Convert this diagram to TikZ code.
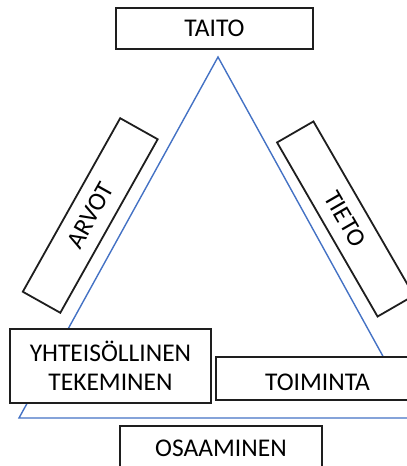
\documentclass[tikz,border=0pt]{standalone}
\usepackage{fontspec}
\setmainfont{Carlito}
\definecolor{triblue}{RGB}{68,114,196}
\definecolor{boxline}{RGB}{30,30,30}
\begin{document}
\begin{tikzpicture}[x=1pt,y=1pt,
  every node/.style={font=\fontsize{25.5}{31}\selectfont},
  labelbox/.style={draw=boxline, line width=1.8pt, fill=white, inner sep=0pt,
    text height=16.4pt, text depth=0pt, align=center}]
  \useasboundingbox (0,0) rectangle (407,466);
  \clip (0,0) rectangle (407,466);

  % triangle
  \coordinate (apex) at (218,409);
  \coordinate (bl) at (19,48);
  \coordinate (br) at (417,48);
  \draw[triblue, line width=1.4pt, line join=miter] (apex) -- (br) -- (bl) -- cycle;

  % labels around the triangle
  \node[labelbox, minimum width=197pt, minimum height=41pt] (taito) at (214.5,437.5) {TAITO};
  \node[labelbox, minimum width=199pt, minimum height=43pt, rotate=60.7] (arvot) at (90.25,250.5) {ARVOT};
  \node[labelbox, minimum width=201pt, minimum height=42pt, rotate=-60] (tieto) at (345.5,247) {TIETO};
  \node[draw=boxline, line width=1.8pt, fill=white, inner sep=0pt, align=center,
        minimum width=201pt, minimum height=74pt] (yht) at (110.5,100) {YHTEISÖLLINEN\\[-2pt]TEKEMINEN};
  \node[labelbox, minimum width=203pt, minimum height=43pt, text height=24.4pt] (toiminta) at (317.5,87.5) {TOIMINTA};
  \node[labelbox, minimum width=202pt, minimum height=44pt] (osaaminen) at (221,18) {OSAAMINEN};
\end{tikzpicture}
\end{document}
